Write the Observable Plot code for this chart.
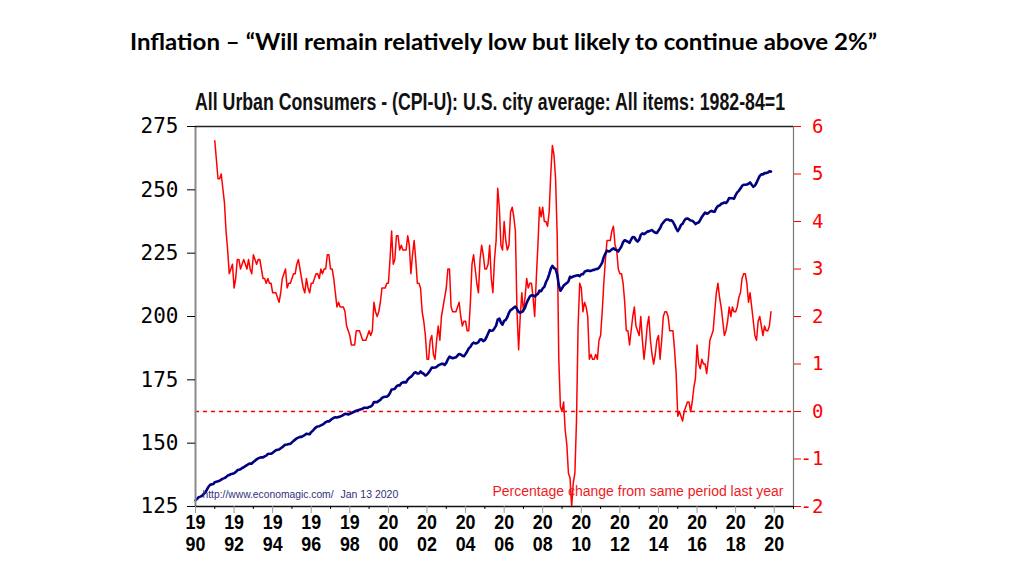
<!DOCTYPE html>
<html><head><meta charset="utf-8">
<script src="https://cdn.jsdelivr.net/npm/d3@7"></script>
<script src="https://cdn.jsdelivr.net/npm/@observablehq/plot@0.6"></script>
<style>
body{margin:0;background:#fff;width:1024px;height:576px;overflow:hidden;position:relative}
#chart{position:absolute;left:0;top:0}
#titles{position:absolute;left:0;top:0}
</style></head><body>
<div id="chart"></div>
<svg id="titles" width="1024" height="120">
  <text x="130" y="50" font-family="Lato, 'Open Sans', sans-serif" font-weight="700" font-size="22" fill="#000" textLength="747" lengthAdjust="spacingAndGlyphs">Inflation – “Will remain relatively low but likely to continue above 2%”</text>
  <text x="195" y="110" font-family="'Liberation Sans', Arial, sans-serif" font-weight="700" font-size="24.5" fill="#111" textLength="590" lengthAdjust="spacingAndGlyphs">All Urban Consumers - (CPI-U): U.S. city average: All items: 1982-84=1</text>
</svg>
<script>
// CPI-U index, monthly from Jan 1990 (1982-84=100)
const cpiStartYear = 1990;
const cpiIndex = [
127.4,128.0,128.7,128.9,129.2,129.9,130.4,131.6,132.7,133.5,133.8,133.8,
134.6,134.8,135.0,135.2,135.6,136.0,136.2,136.6,137.2,137.4,137.8,137.9,
138.1,138.6,139.3,139.5,139.7,140.2,140.5,140.9,141.3,141.8,142.0,141.9,
142.6,143.1,143.6,144.0,144.2,144.4,144.4,144.8,145.1,145.7,145.8,145.8,
146.2,146.7,147.2,147.4,147.5,148.0,148.4,149.0,149.4,149.5,149.7,149.7,
150.3,150.9,151.4,151.9,152.2,152.5,152.5,152.9,153.2,153.7,153.6,153.5,
154.4,154.9,155.7,156.3,156.6,156.7,157.0,157.3,157.8,158.3,158.6,158.6,
159.1,159.6,160.0,160.2,160.1,160.3,160.5,160.8,161.2,161.6,161.5,161.3,
161.6,161.9,162.2,162.5,162.8,163.0,163.2,163.4,163.6,164.0,164.0,163.9,
164.3,164.5,165.0,166.2,166.2,166.2,166.7,167.1,167.9,168.2,168.3,168.3,
168.8,169.8,171.2,171.3,171.5,172.4,172.8,172.8,173.7,174.0,174.1,174.0,
175.1,175.8,176.2,176.9,177.7,178.0,177.5,177.5,178.3,177.7,177.4,176.7,
177.1,177.8,178.8,179.8,179.8,179.9,180.1,180.7,181.0,181.3,181.3,180.9,
181.7,183.1,184.2,183.8,183.5,183.7,183.9,184.6,185.2,185.0,184.5,184.3,
185.2,186.2,187.4,188.0,189.1,189.7,189.4,189.5,189.9,190.9,191.0,190.3,
190.7,191.8,193.3,194.6,194.4,194.5,195.4,196.4,198.8,199.2,197.6,196.8,
198.3,198.7,199.8,201.5,202.5,202.9,203.5,203.9,202.9,201.8,201.5,201.8,
202.4,203.5,205.4,206.7,207.9,208.4,208.3,207.9,208.5,208.9,210.2,210.0,
211.1,211.7,213.5,214.8,216.6,218.8,220.0,219.1,218.8,216.6,212.4,210.2,
211.1,212.2,212.7,213.2,213.9,215.7,215.4,215.8,216.0,216.2,216.3,215.9,
216.7,216.7,217.6,218.0,218.2,218.0,218.0,218.3,218.4,218.7,218.8,219.2,
220.2,221.3,223.5,224.9,226.0,225.7,225.9,226.5,226.9,226.4,226.2,225.7,
226.7,227.7,229.4,230.1,229.8,229.5,229.1,230.4,231.4,231.3,230.2,229.6,
230.3,232.2,232.8,232.5,232.9,233.5,233.6,233.9,234.1,233.5,233.1,233.0,
233.9,234.8,236.3,237.1,237.9,238.3,238.3,237.9,238.0,237.4,236.2,234.8,
233.7,234.7,236.1,236.6,237.8,238.6,238.7,238.3,237.9,237.8,237.3,236.5,
236.9,237.1,238.1,239.3,240.2,241.0,240.6,240.8,241.4,241.7,241.4,241.4,
242.8,243.6,243.8,244.5,244.7,245.0,244.8,245.5,246.8,246.7,246.7,246.5,
247.9,249.0,249.6,250.5,251.6,252.0,252.0,252.1,252.4,252.9,252.0,251.2,
251.7,252.8,254.2,255.5,256.1,256.1,256.6,256.6,256.8,257.3,257.2
];
// Percentage change from same period last year, monthly from Jan 1991
const pctStartYear = 1991;
const pctChange = [
5.7,5.3,4.9,4.9,5.0,4.7,4.4,3.8,3.4,2.9,3.0,3.1,
2.6,2.8,3.2,3.2,3.0,3.1,3.2,3.1,3.0,3.2,3.0,2.9,
3.3,3.2,3.1,3.2,3.2,3.0,2.8,2.8,2.7,2.8,2.7,2.7,
2.5,2.5,2.5,2.4,2.3,2.5,2.8,2.9,3.0,2.6,2.7,2.7,
2.8,2.9,2.9,3.1,3.2,3.0,2.8,2.6,2.5,2.8,2.6,2.5,
2.7,2.7,2.8,2.9,2.9,2.8,3.0,2.9,3.0,3.0,3.3,3.3,
3.0,3.0,2.8,2.5,2.2,2.3,2.2,2.2,2.2,2.1,1.8,1.7,
1.6,1.4,1.4,1.4,1.7,1.7,1.7,1.6,1.5,1.5,1.5,1.6,
1.7,1.6,1.7,2.3,2.1,2.0,2.1,2.3,2.6,2.6,2.6,2.7,
2.7,3.2,3.8,3.1,3.2,3.7,3.7,3.4,3.5,3.4,3.4,3.4,
3.7,3.5,2.9,3.3,3.6,3.2,2.7,2.7,2.6,2.1,1.9,1.6,
1.1,1.1,1.5,1.6,1.2,1.1,1.5,1.8,1.5,2.0,2.2,2.4,
2.6,3.0,3.0,2.2,2.1,2.1,2.1,2.2,2.3,2.0,1.8,1.9,
1.9,1.7,1.7,2.3,3.1,3.3,3.0,2.7,2.5,3.2,3.5,3.3,
3.0,3.0,3.1,3.5,2.8,2.5,3.2,3.6,4.7,4.3,3.5,3.4,
4.0,3.6,3.4,3.5,4.2,4.3,4.1,3.8,2.1,1.3,2.0,2.5,
2.1,2.4,2.8,2.6,2.7,2.7,2.4,2.0,2.8,3.5,4.3,4.1,
4.3,4.0,4.0,3.9,4.2,5.0,5.6,5.4,4.9,3.7,1.1,0.1,
0.0,0.2,-0.4,-0.7,-1.3,-1.4,-2.0,-1.5,-1.3,-0.2,1.8,2.7,
2.6,2.1,2.3,2.2,2.0,1.1,1.2,1.1,1.1,1.2,1.1,1.5,
1.6,2.1,2.7,3.2,3.6,3.6,3.6,3.8,3.9,3.5,3.4,3.0,
2.9,2.9,2.7,2.3,1.7,1.7,1.4,1.7,2.0,2.2,1.8,1.7,
1.6,2.0,1.5,1.1,1.4,1.8,2.0,1.5,1.2,1.0,1.2,1.5,
1.6,1.1,1.5,2.0,2.1,2.1,2.0,1.7,1.7,1.7,1.3,0.8,
-0.1,0.0,-0.1,-0.2,0.0,0.1,0.2,0.2,0.0,0.2,0.5,0.7,
1.4,1.0,0.9,1.1,1.0,1.0,0.8,1.1,1.5,1.6,1.7,2.1,
2.5,2.7,2.4,2.2,1.9,1.6,1.7,1.9,2.2,2.0,2.2,2.1,
2.1,2.2,2.4,2.5,2.8,2.9,2.9,2.7,2.3,2.5,2.2,1.9,
1.6,1.5,1.9,2.0,1.8,1.6,1.8,1.7,1.7,1.8,2.1
];
const leftTicks = [125,150,175,200,225,250,275];
const rightTicks = [-2,-1,0,1,2,3,4,5,6];
const yearTicks = [1990,1992,1994,1996,1998,2000,2002,2004,2006,2008,2010,2012,2014,2016,2018,2020];
const minorYears = [1991,1993,1995,1997,1999,2001,2003,2005,2007,2009,2011,2013,2015,2017,2019,2021];
const sourceText = "http://www.economagic.com/";
const dateText = "Jan 13 2020";
const captionText = "Percentage change from same period last year";

const cpi = cpiIndex.map((v, i) => ({date: cpiStartYear + i / 12, value: v}));
const pct = pctChange.map((v, i) => ({date: pctStartYear + i / 12, value: v}));
const toLeft = d3.scaleLinear([-2, 6], [125, 275]);

const plot = Plot.plot({
  width: 1024, height: 576,
  marginLeft: 195, marginRight: 231, marginTop: 126, marginBottom: 70,
  x: {domain: [1990, 2021], axis: null},
  y: {domain: [125, 275], axis: null},
  style: {background: "transparent", overflow: "visible", fontFamily: "'Liberation Sans', Arial, sans-serif"},
  marks: [
    Plot.ruleY([toLeft(0)], {stroke: "#ff0000", strokeWidth: 1.3, strokeDasharray: "4,4"}),
    Plot.line(pct, {x: "date", y: d => toLeft(d.value), stroke: "#ff0000", strokeWidth: 1.5}),
    Plot.line(cpi, {x: "date", y: "value", stroke: "#000080", strokeWidth: 2.6}),
    Plot.ruleX([1990], {stroke: "#8a8a8a", strokeWidth: 2}),
    Plot.ruleX([2021], {stroke: "#777", strokeWidth: 1.2}),
    Plot.ruleY([275], {stroke: "#222", strokeWidth: 1.5}),
    Plot.ruleY([125], {stroke: "#111", strokeWidth: 1.5}),
    Plot.axisY(leftTicks, {anchor: "left", tickSize: 8, tickPadding: 9, label: null, color: "#000",
      fontFamily: "'DejaVu Sans Mono', monospace", fontSize: 21}),
    Plot.axisY(rightTicks.map(v => toLeft(v)), {anchor: "right", tickSize: 7, tickPadding: 23, textAnchor: "end",
      label: null, color: "#ff0000", fontFamily: "'DejaVu Sans Mono', monospace", fontSize: 19,
      tickFormat: d => String(Math.round(toLeft.invert(d)))}),
    Plot.axisX(minorYears, {anchor: "bottom", tickSize: 3, label: null, stroke: "#000", tickFormat: () => ""}),
    Plot.axisX(yearTicks, {anchor: "bottom", tickSize: 7, tickPadding: 0, label: null, stroke: "#999", fill: "#000",
      fontWeight: "bold", fontSize: 21, lineHeight: 1.05,
      tickFormat: d => String(d).slice(0, 2) + "\n" + String(d).slice(2)}),
    Plot.text([sourceText], {frameAnchor: "bottom-left", dx: 7, dy: -9, fill: "#30307a", fontSize: 10.3, textAnchor: "start"}),
    Plot.text([dateText], {frameAnchor: "bottom-left", dx: 145, dy: -9, fill: "#30307a", fontSize: 10.5, textAnchor: "start"}),
    Plot.text([captionText], {frameAnchor: "bottom-right", dx: -10, dy: -11, fill: "#ee1c25", fontSize: 14, textAnchor: "end"})
  ]
});
document.getElementById("chart").appendChild(plot);

// condense the bold year labels horizontally, as in the reference
plot.querySelectorAll('g[aria-label="x-axis tick label"] text').forEach(t => {
  const b = t.getBBox();
  const cx = b.x + b.width / 2;
  t.setAttribute("transform", (t.getAttribute("transform") || "") + ` translate(${cx},0) scale(0.85,1) translate(${-cx},0)`);
});
</script>
</body></html>
